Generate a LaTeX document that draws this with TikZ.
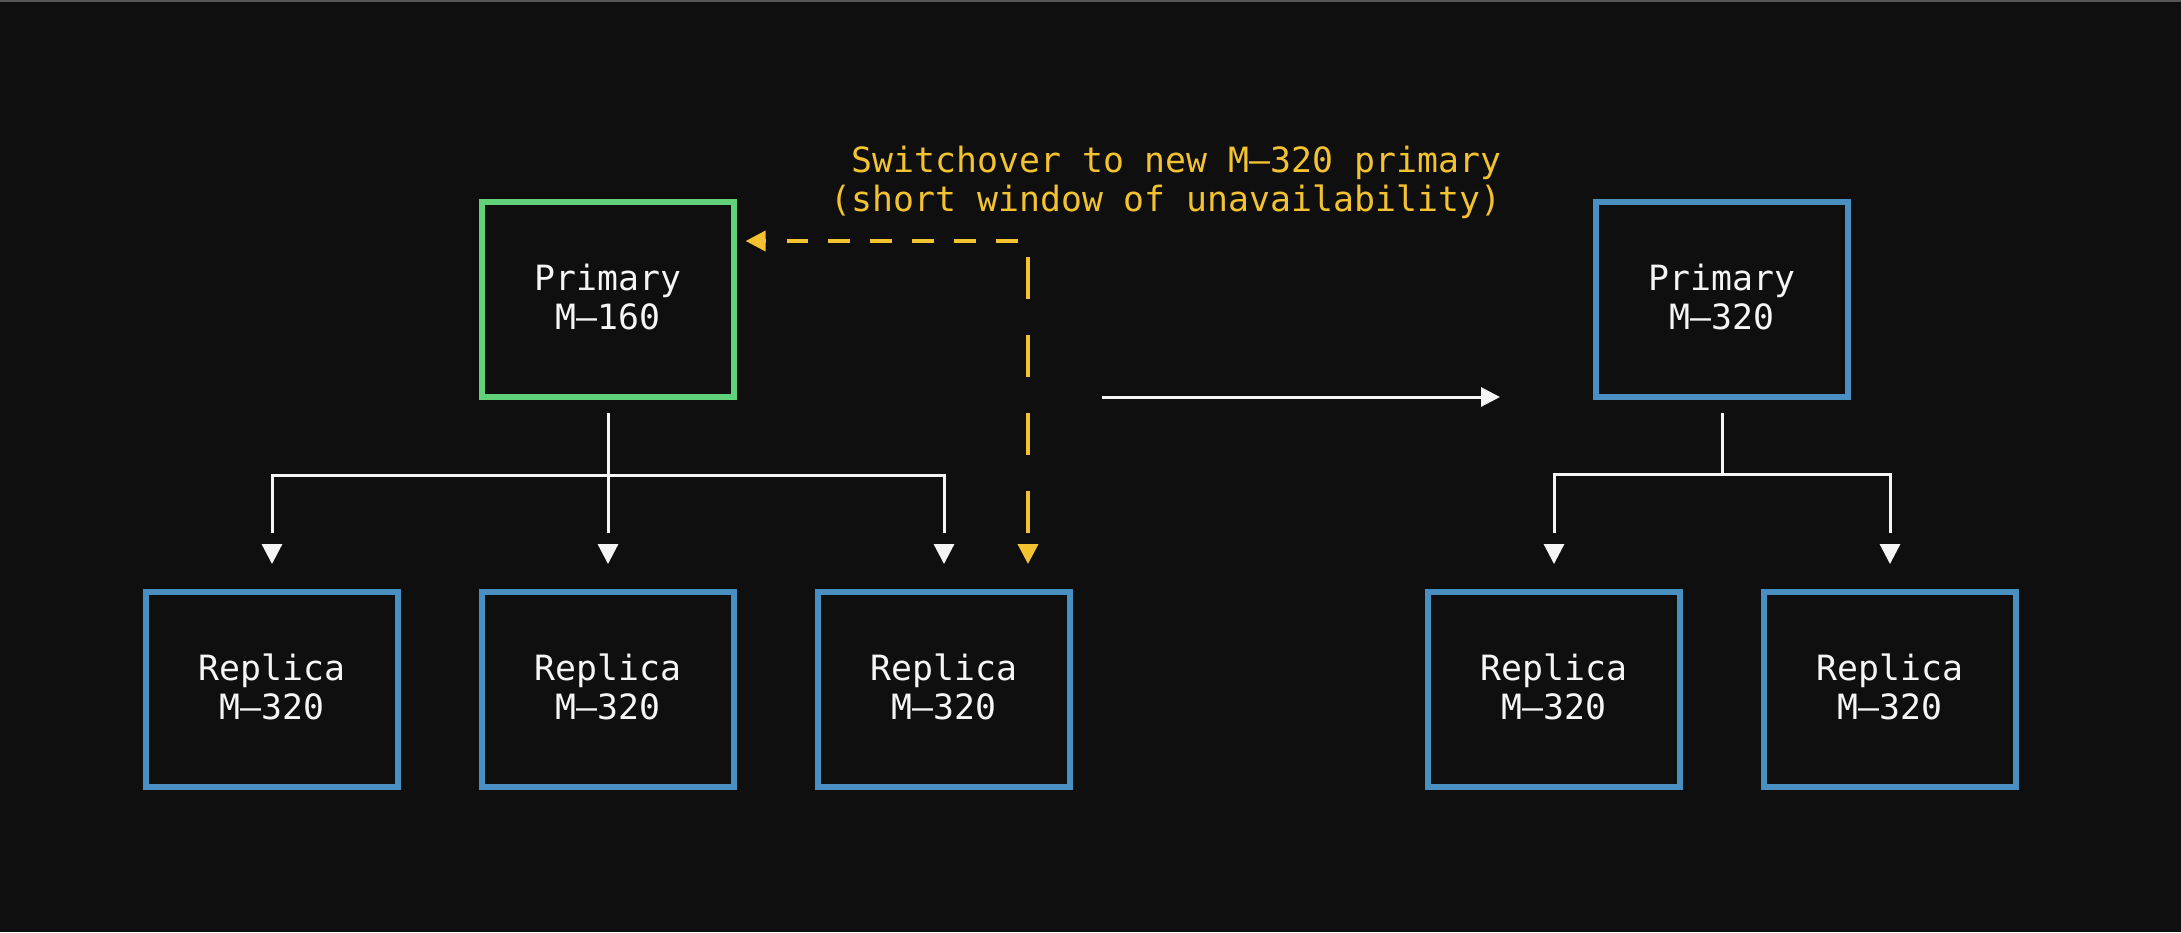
\documentclass[tikz,border=0pt]{standalone}
\usepackage{fontspec}
\setmonofont{DejaVu Sans Mono}
\usetikzlibrary{arrows.meta}
\definecolor{bg}{HTML}{0F0F0F}
\definecolor{edge}{HTML}{555555}
\definecolor{grn}{HTML}{62D27A}
\definecolor{blu}{HTML}{4A8FC2}
\definecolor{ylw}{HTML}{F2C230}
\definecolor{wht}{HTML}{F5F5F5}
\begin{document}
\begin{tikzpicture}[x=0.01cm,y=-0.01cm,
  txt/.style={font=\ttfamily\fontsize{9.9pt}{11.1pt}\selectfont},
  box/.style={txt, draw=blu, line width=0.06cm, minimum width=2.51cm, minimum height=1.95cm,
    inner sep=0pt, align=center, text=wht, text depth=0.06cm},
  oldbox/.style={box, draw=grn},
  wire/.style={draw=wht, line width=0.03cm},
  wline/.style={wire, shorten >=0.56cm},
  whead/.style={wire, solid, -{Triangle[length=0.2cm,width=0.2cm]}, shorten >=0.25cm},
  ylink/.style={draw=ylw, line width=0.037cm},
  yhead/.style={ylink, solid, -{Triangle[length=0.2cm,width=0.2cm]}},
  lbl/.style={txt, text=ylw, inner sep=0pt, align=right}
]
\fill[bg] (0,0) rectangle (2181,932);
\useasboundingbox (0,0) rectangle (2181,932);
\fill[edge] (0,0) rectangle (2181,1.5);

% left cluster
\node[oldbox] (P1) at (608,299.7) {Primary\\M–160};
\node[box] (R1) at (272,689.6) {Replica\\M–320};
\node[box] (R2) at (608,689.6) {Replica\\M–320};
\node[box] (R3) at (944,689.6) {Replica\\M–320};

% right cluster
\node[box] (P2) at (1722,299.7) {Primary\\M–320};
\node[box] (R4) at (1554,689.6) {Replica\\M–320};
\node[box] (R5) at (1890,689.6) {Replica\\M–320};

% left tree
\coordinate (b1) at (608,475);
\draw[wline, shorten <=0.13cm] (P1.south) -- (R2.north);
\draw[wline] (b1) -| (R1.north);
\draw[wline] (b1) -| (R3.north);
\foreach \n in {R1,R2,R3}{
  \draw[whead] (\n.north) ++(0,-45) -- (\n.north);
}

% right tree
\coordinate (b2) at (1722,474);
\draw[wire, shorten <=0.13cm] (P2.south) -- (b2);
\draw[wline] (b2) -| (R4.north);
\draw[wline] (b2) -| (R5.north);
\foreach \n in {R4,R5}{
  \draw[whead] (\n.north) ++(0,-45) -- (\n.north);
}

% transition arrow
\coordinate (a1) at (1102,397);
\coordinate (a2) at (1500,397);
\draw[wire, -{Triangle[length=0.19cm,width=0.19cm]}] (a1) -- (a2);

% switchover dashed link
\coordinate (corner) at (1028,241);
\coordinate (hend) at (P1.east |- corner);
\coordinate (vend) at (corner |- R3.north);
\draw[ylink, dash pattern=on 0.22cm off 0.2cm, shorten <=0.1cm, shorten >=0.5cm]
  (corner) -- (hend);
\draw[yhead, shorten >=0.09cm] (hend) ++(29,0) -- (hend);
\draw[ylink, dash pattern=on 0.42cm off 0.36cm, shorten <=0.16cm, shorten >=0.56cm]
  (corner) -- (vend);
\draw[yhead, shorten >=0.25cm] (vend) ++(0,-45) -- (vend);

\node[lbl, anchor=base east] (lab) at (1502,211.7)
  {Switchover to new M–320 primary\\(short window of unavailability)};
\end{tikzpicture}
\end{document}
